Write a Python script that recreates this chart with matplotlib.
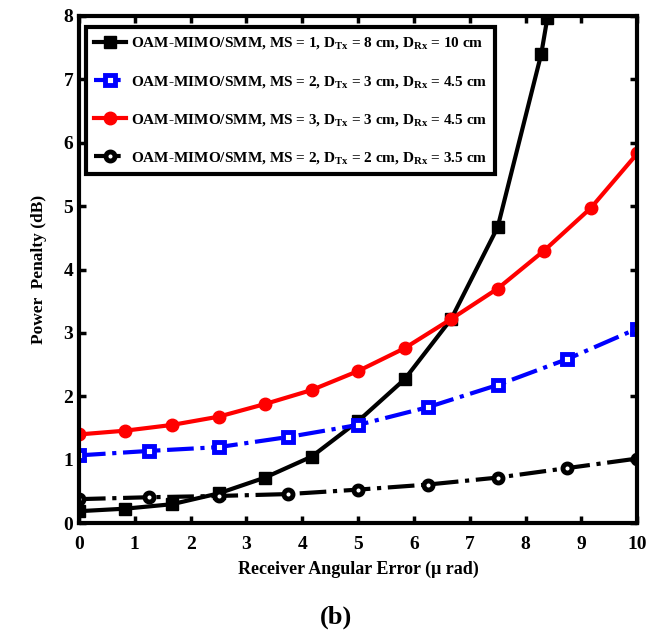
import matplotlib
matplotlib.use("Agg")
import matplotlib.pyplot as plt

plt.rcParams['font.family'] = 'Liberation Serif'
plt.rcParams['font.weight'] = 'bold'
plt.rcParams['mathtext.default'] = 'regular'

# angular error (micro rad) and power penalty (dB) for each configuration
x_ms1 = [0, 0.833, 1.667, 2.5, 3.333, 4.167, 5.0, 5.833, 6.667, 7.5, 8.28, 8.39]
y_ms1 = [0.19, 0.23, 0.30, 0.47, 0.72, 1.05, 1.61, 2.27, 3.22, 4.67, 7.40, 7.97]

x_ms2 = [0, 1.25, 2.5, 3.75, 5.0, 6.25, 7.5, 8.75, 10]
y_ms2 = [1.07, 1.14, 1.20, 1.36, 1.55, 1.83, 2.18, 2.59, 3.07]

x_ms3 = [0, 0.833, 1.667, 2.5, 3.333, 4.167, 5.0, 5.833, 6.667, 7.5, 8.333, 9.167, 10]
y_ms3 = [1.40, 1.46, 1.55, 1.68, 1.88, 2.10, 2.40, 2.76, 3.22, 3.70, 4.30, 4.97, 5.83]

x_ms2b = [0, 1.25, 2.5, 3.75, 5.0, 6.25, 7.5, 8.75, 10]
y_ms2b = [0.38, 0.41, 0.43, 0.46, 0.53, 0.61, 0.72, 0.87, 1.02]

labels = [
    r"OAM-MIMO/SMM, MS = 1, D$_{Tx}$ = 8 cm, D$_{Rx}$ = 10 cm",
    r"OAM-MIMO/SMM, MS = 2, D$_{Tx}$ = 3 cm, D$_{Rx}$ = 4.5 cm",
    r"OAM-MIMO/SMM, MS = 3, D$_{Tx}$ = 3 cm, D$_{Rx}$ = 4.5 cm",
    r"OAM-MIMO/SMM, MS = 2, D$_{Tx}$ = 2 cm, D$_{Rx}$ = 3.5 cm",
]

fig = plt.figure(figsize=(6.47, 6.35), dpi=100)
ax = fig.add_axes([0.122, 0.176, 0.863, 0.799])

ax.plot(x_ms1, y_ms1, '-', color='black', lw=3, marker='s', ms=9,
        mfc='black', mec='black', label=labels[0])
ax.plot(x_ms2, y_ms2, '-.', color='blue', lw=3, marker='s', ms=6.5,
        mfc='white', mec='blue', mew=3.5, label=labels[1])
ax.plot(x_ms3, y_ms3, '-', color='red', lw=3, marker='o', ms=9,
        mfc='red', mec='red', label=labels[2])
ax.plot(x_ms2b, y_ms2b, '-.', color='black', lw=3, marker='o', ms=6.5,
        mfc='white', mec='black', mew=3.5, label=labels[3])

ax.set_xlim(0, 10)
ax.set_ylim(0, 8)
ax.set_xticks(range(0, 11))
ax.set_yticks(range(0, 9))
ax.tick_params(direction='in', top=True, right=True, width=2.5, length=5,
               labelsize=14)
ax.tick_params(axis='x', pad=9)
ax.tick_params(axis='y', pad=4)
for s in ax.spines.values():
    s.set_linewidth(3)

ax.set_xlabel("Receiver Angular Error (\u03bc rad)", fontsize=13, fontweight='bold', labelpad=6)
ax.set_ylabel("Power  Penalty (dB)", fontsize=12.5, fontweight='bold', labelpad=12)

leg = ax.legend(loc='upper left', bbox_to_anchor=(0.012, 0.978), fontsize=11,
                fancybox=False, edgecolor='black', framealpha=1,
                handlelength=2.1, handletextpad=0.3, labelspacing=1.45,
                borderpad=0.55, borderaxespad=0)
leg.get_frame().set_linewidth(3)

fig.text(0.52, 0.028, "(b)", fontsize=19, fontweight='bold', ha='center', va='center')

fig.savefig("out.png", dpi=100)
